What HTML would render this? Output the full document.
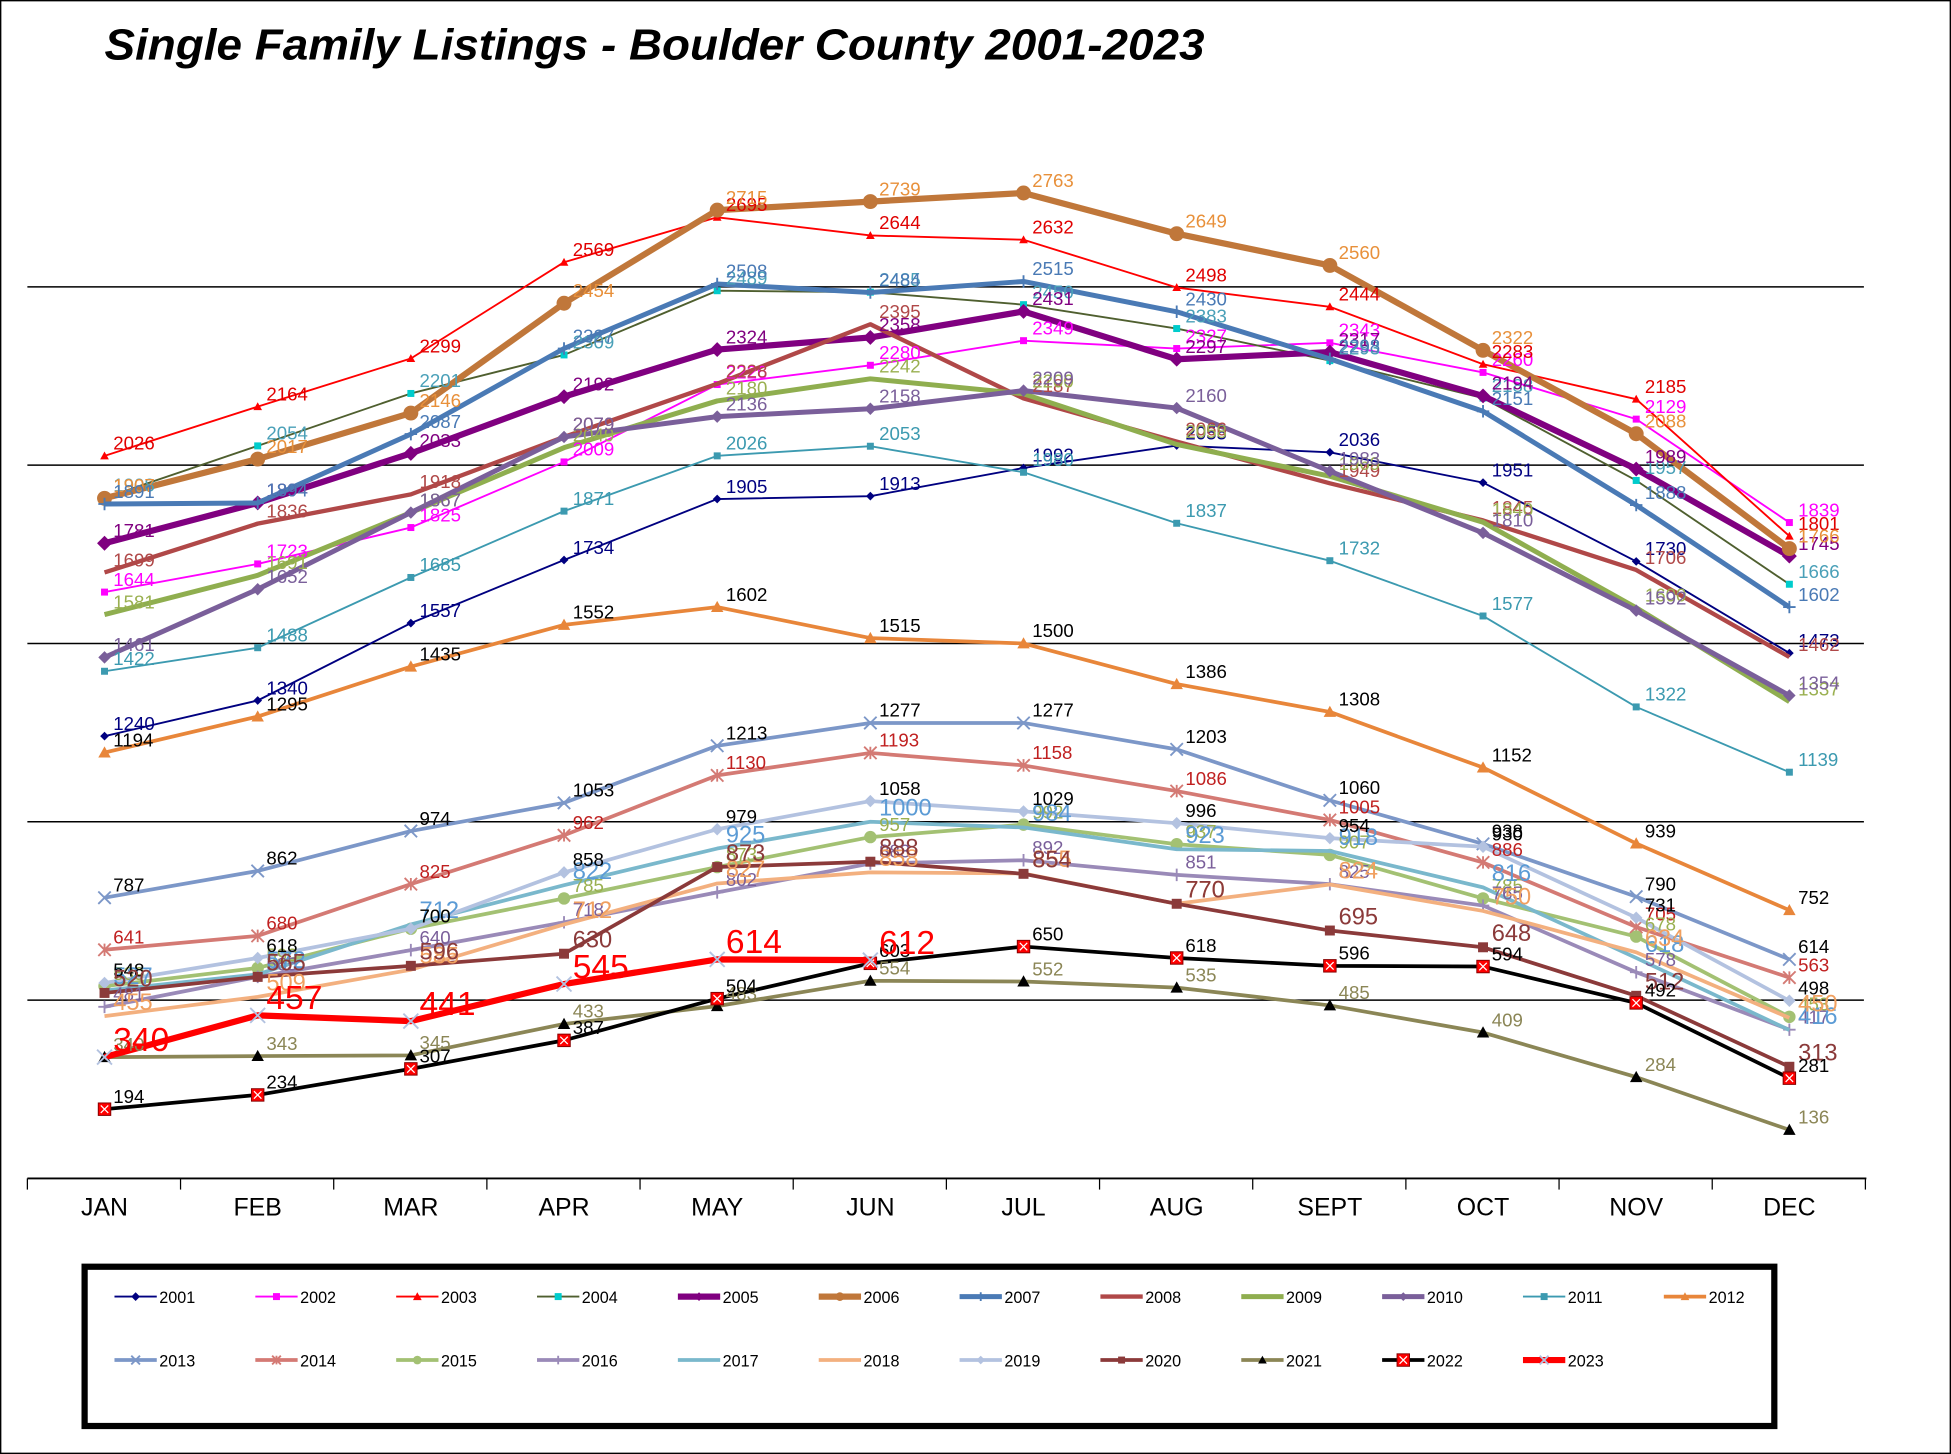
<!DOCTYPE html>
<html><head><meta charset="utf-8"><style>
html,body{margin:0;padding:0;background:#fff;}
svg{display:block;}
text{font-family:"Liberation Sans",Arial,sans-serif;}
</style></head><body>
<svg id="chart" xmlns="http://www.w3.org/2000/svg" width="1951" height="1454" viewBox="0 0 1568 1168.5" preserveAspectRatio="none">
<rect x="0.5" y="0.5" width="1567" height="1167.5" fill="#fff" stroke="#000" stroke-width="1.2"/>
<text x="84" y="48" font-size="35" font-weight="bold" font-style="italic" textLength="884" lengthAdjust="spacingAndGlyphs">Single Family Listings - Boulder County 2001-2023</text>
<g id="grid"></g>
<g id="series"></g>
<g id="labels"></g>
<g id="axis"></g>
<rect x="68" y="1018" width="1358" height="128" fill="none" stroke="#000" stroke-width="5"/>
<g id="legend"></g>
</svg>
<script>
const months = ["JAN","FEB","MAR","APR","MAY","JUN","JUL","AUG","SEPT","OCT","NOV","DEC"];
const gridValues = [500,1000,1500,2000,2500];
const years = ["2001","2002","2003","2004","2005","2006","2007","2008","2009","2010","2011","2012","2013","2014","2015","2016","2017","2018","2019","2020","2021","2022","2023"];
const s2001 = [1240,1340,1557,1734,1905,1913,1992,2055,2036,1951,1730,1473];
const s2002 = [1644,1723,1825,2009,2226,2280,2349,2327,2343,2260,2129,1839];
const s2003 = [2026,2164,2299,2569,2695,2644,2632,2498,2444,2283,2185,1801];
const s2004 = [1908,2054,2201,2309,2489,2485,2450,2383,2293,2188,1957,1666];
const s2005 = [1781,1894,2033,2192,2324,2358,2431,2297,2317,2194,1989,1745];
const s2006 = [1907,2017,2146,2454,2715,2739,2763,2649,2560,2322,2088,1766];
const s2007 = [1891,1894,2087,2327,2508,2484,2515,2430,2298,2151,1888,1602];
const s2008 = [1699,1836,1918,2079,2228,2395,2187,2066,1949,1845,1706,1462];
const s2009 = [1581,1691,1867,2049,2180,2242,2200,2058,1969,1840,1600,1337];
const s2010 = [1461,1652,1867,2079,2136,2158,2209,2160,1983,1810,1592,1354];
const s2011 = [1422,1488,1685,1871,2026,2053,1980,1837,1732,1577,1322,1139];
const s2012 = [1194,1295,1435,1552,1602,1515,1500,1386,1308,1152,939,752];
const s2013 = [787,862,974,1053,1213,1277,1277,1203,1060,938,790,614];
const s2014 = [641,680,825,962,1130,1193,1158,1086,1005,886,705,563];
const s2015 = [539,590,700,785,873,957,992,937,907,785,678,453];
const s2016 = [481,565,640,718,802,883,892,851,825,765,578,417];
const s2017 = [527,572,712,822,925,1000,984,923,918,816,618,416];
const s2018 = [455,509,585,712,827,858,855,770,824,750,634,450];
const s2019 = [548,618,700,858,979,1058,1029,996,954,930,731,498];
const s2020 = [520,565,596,630,873,888,854,770,695,648,512,313];
const s2021 = [340,343,345,433,483,554,552,535,485,409,284,136];
const s2022 = [194,234,307,387,504,603,650,618,596,594,492,281];
const s2023 = [340,457,441,545,614,612];
const allSeries = [s2001,s2002,s2003,s2004,s2005,s2006,s2007,s2008,s2009,s2010,s2011,s2012,s2013,s2014,s2015,s2016,s2017,s2018,s2019,s2020,s2021,s2022,s2023];

const lineColor = ["#000080","#ff00ff","#ff0000","#4f5f2f","#800080","#c0773a","#4a7ab5","#b04848","#8fae4f","#7a5f9a","#3c9ab0","#e8863a","#7c97c8","#d47a74","#a3c173","#9a8ab8","#7ab8cc","#f3b07f","#b3c2e0","#8b3a3a","#8b8656","#000000","#ff0000"];
const markColor = ["#000080","#ff00ff","#ff0000","#00cccc","#800080","#c0773a","#4a7ab5","#b04848","#8fae4f","#7a5f9a","#3c9ab0","#e8863a","#7c97c8","#d47a74","#a3c173","#9a8ab8","#7ab8cc","#f3b07f","#b3c2e0","#8b3a3a","#000000","#ff0000","#b3c2e0"];
const labelColor = ["#000080","#ff00ff","#e00000","#4aa0b8","#800080","#e8903a","#4a7ab5","#b04848","#9ab050","#7a5f9a","#3c9ab0","#000000","#000000","#c02020","#9ab050","#7a5f9a","#5b9bd5","#f0a060","#000000","#8b3a3a","#8b8656","#000000","#ff0000"];
const widths = [1.5,1.5,1.5,1.5,5,5,4,3.5,4,4,1.5,3,3,3,3,3,3,3,3,3,3,3,5];
const markers = ["diamond","square","triangle","square","diamond","circle","plus","none","none","diamond","square","triangle","x","star","circle","plus","none","none","diamond","square","triangle","xsq","x"];
const labelSize = [15,15,15,15,15,15,15,15,15,15,15,15,15,15,15,15,19,19,15,19,15,15,27];

const X0=84, DX=123.1, Y0=947, KY=0.2866;
function xs(i){return X0+i*DX;}
function ys(v){return Y0-v*KY;}
const NS="http://www.w3.org/2000/svg";
function mk(tag,attrs,parent){const e=document.createElementNS(NS,tag);for(const k in attrs)e.setAttribute(k,attrs[k]);parent.appendChild(e);return e;}

const grid=document.getElementById('grid');
gridValues.forEach(v=>{
  const l=mk('line',{x1:22,x2:1498,y1:ys(v),y2:ys(v),stroke:'#000','stroke-width':1.2},grid);
  
  
});

function marker(g,type,x,y,c,sz){
  let e=null;
  if(type==='diamond') e=mk('path',{d:`M${x} ${y-sz}L${x+sz} ${y}L${x} ${y+sz}L${x-sz} ${y}Z`,fill:c},g);
  else if(type==='square') e=mk('rect',{x:x-sz*0.8,y:y-sz*0.8,width:sz*1.6,height:sz*1.6,fill:c},g);
  else if(type==='triangle') e=mk('path',{d:`M${x} ${y-sz}L${x+sz} ${y+sz*0.8}L${x-sz} ${y+sz*0.8}Z`,fill:c},g);
  else if(type==='circle') e=mk('circle',{cx:x,cy:y,r:sz,fill:c},g);
  else if(type==='plus') e=mk('path',{d:`M${x-sz} ${y}H${x+sz}M${x} ${y-sz}V${y+sz}`,stroke:c,'stroke-width':1.5},g);
  else if(type==='x') e=mk('path',{d:`M${x-sz} ${y-sz}L${x+sz} ${y+sz}M${x+sz} ${y-sz}L${x-sz} ${y+sz}`,stroke:c,'stroke-width':1.5},g);
  else if(type==='star') e=mk('path',{d:`M${x-sz} ${y-sz}L${x+sz} ${y+sz}M${x+sz} ${y-sz}L${x-sz} ${y+sz}M${x} ${y-sz}V${y+sz}`,stroke:c,'stroke-width':1.5},g);
  else if(type==='xsq'){ e=mk('rect',{x:x-5,y:y-5,width:10,height:10,fill:'#ff0000',stroke:'#800','stroke-width':0.8},g);
    mk('path',{d:`M${x-3} ${y-3}L${x+3} ${y+3}M${x+3} ${y-3}L${x-3} ${y+3}`,stroke:'#fff','stroke-width':1},g);}
  if(e){}
}

const sg=document.getElementById('series'), lg=document.getElementById('labels');
// draw order: older first, with 2022/2023 on top
allSeries.forEach((arr,si)=>{
  const g=mk('g',{},sg);
  
  
  const pts=arr.map((v,i)=>xs(i)+','+ys(v)).join(' ');
  const pl=mk('polyline',{points:pts,fill:'none',stroke:lineColor[si],'stroke-width':widths[si],'stroke-linejoin':'round'},g);
  
  
  const sz = widths[si]>=5?6:(widths[si]>=3?5:3.5);
  arr.forEach((v,i)=>{
    marker(g,markers[si],xs(i),ys(v),markColor[si],sz);
    const t=mk('text',{x:xs(i)+7,y:ys(v)-5,'font-size':labelSize[si],fill:labelColor[si]},lg);
    t.textContent=v;
    
    
  });
});

const ax=document.getElementById('axis');
mk('line',{x1:22,x2:1500,y1:Y0,y2:Y0,stroke:'#000','stroke-width':1.5},ax);
for(let i=0;i<=12;i++){
  const tk=mk('line',{x1:22+i*DX,x2:22+i*DX,y1:Y0,y2:Y0+9,stroke:'#000','stroke-width':1},ax);
  
  
}
months.forEach((m,i)=>{
  const t=mk('text',{x:xs(i),y:977,'font-size':20,'text-anchor':'middle',fill:'#000'},ax);
  t.textContent=m;
  
  
});

const leg=document.getElementById('legend');
years.forEach((yr,si)=>{
  const row=si<12?0:1, col=si<12?si:si-12;
  const lx=92+col*113.2, ly=row===0?1042:1093;
  const g=mk('g',{},leg);
  
  
  mk('line',{x1:lx,x2:lx+34,y1:ly,y2:ly,stroke:lineColor[si],'stroke-width':Math.min(widths[si],5)},g);
  marker(g,markers[si],lx+17,ly,markColor[si],3.5);
  const t=mk('text',{x:lx+36,y:ly+5,'font-size':13,fill:'#000'},g);
  t.textContent=yr;
});
</script>
</body></html>
